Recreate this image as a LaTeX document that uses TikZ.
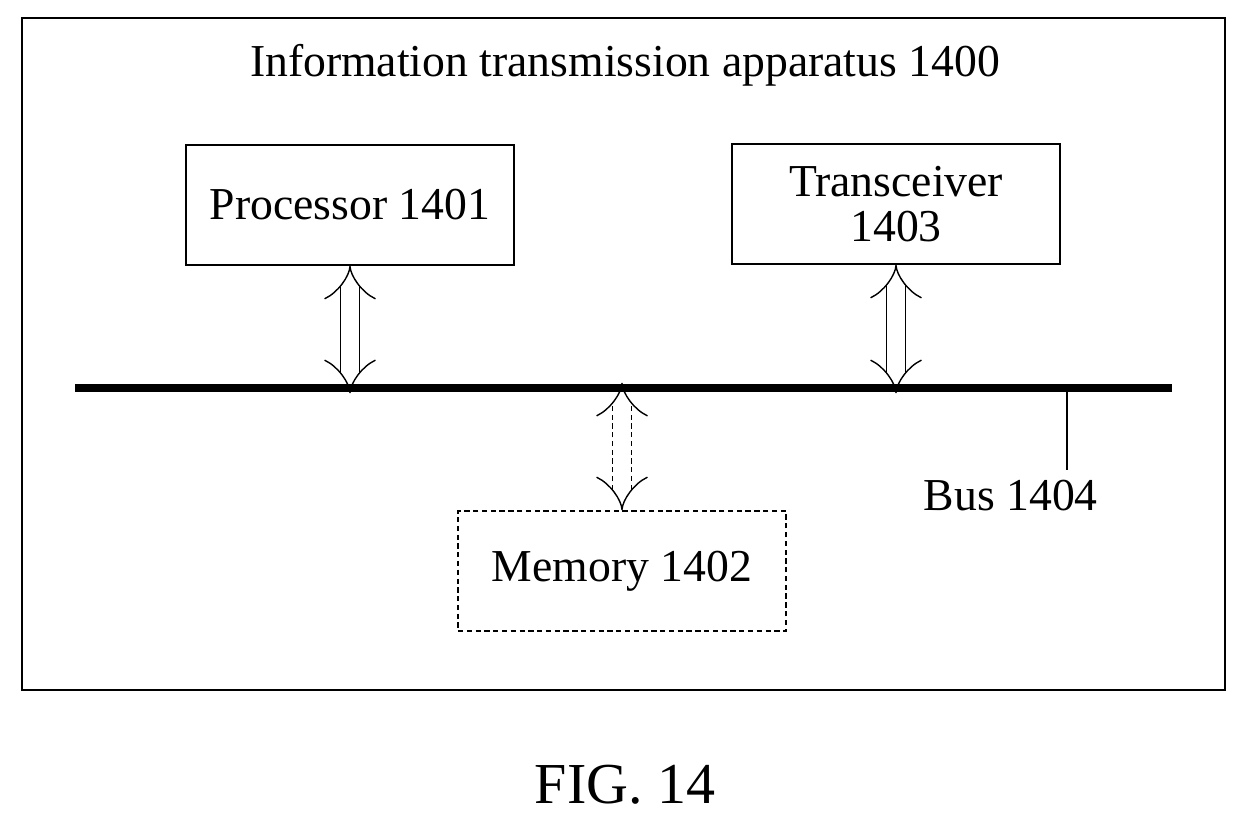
\documentclass[tikz,border=0pt]{standalone}
\usepackage{fontspec}
\setmainfont{Liberation Serif}
\usetikzlibrary{arrows.meta,positioning}
\tikzset{
  unit/.style  = {draw, thick, minimum width=6.56cm, minimum height=2.4cm, align=center,
                  font=\fontsize{26}{30}\selectfont},
  link/.style  = {double, double distance=10pt, thick, {Implies[length=8pt]}-{Implies[length=8pt]}},
  label/.style = {font=\fontsize{26}{30}\selectfont}
}
\begin{document}
\begin{tikzpicture}[x=0.02cm, y=-0.02cm]
  \useasboundingbox (0,0) rectangle (1247,828);
  % outer frame and captions
  \draw[thick] (22,18) rectangle (1225,690);
  \node[label] (title) at (625,65) {Information transmission apparatus 1400};
  \node[font=\fontsize{33}{38}\selectfont] (fig) at (625,785) {FIG. 14};

  % units
  \node[unit] (proc) at (350,205) {Processor 1401};
  \node[unit] (trx) at (896,204) {Transceiver\\[-4pt]1403};
  \node[unit, densely dashed] (mem) at (622,571) {Memory 1402};

  % bus
  \coordinate (busL) at (75,388);
  \coordinate (busR) at (1172,388);
  \draw[line width=4pt] (busL) -- (busR);
  \coordinate (busT) at (1067,391);
  \coordinate (busB) at (1067,470);
  \draw[thick] (busT) -- (busB);
  \node[label, below=2pt of busB, xshift=-32] (bus) {Bus 1404};

  % links to the bus
  \draw[link] (proc.south) -- ([yshift=-3pt]proc.south |- busL);
  \draw[link] (trx.south) -- ([yshift=-3pt]trx.south |- busL);
  \draw[link, densely dashed] (mem.north) -- ([yshift=3pt]mem.north |- busL);
\end{tikzpicture}
\end{document}
